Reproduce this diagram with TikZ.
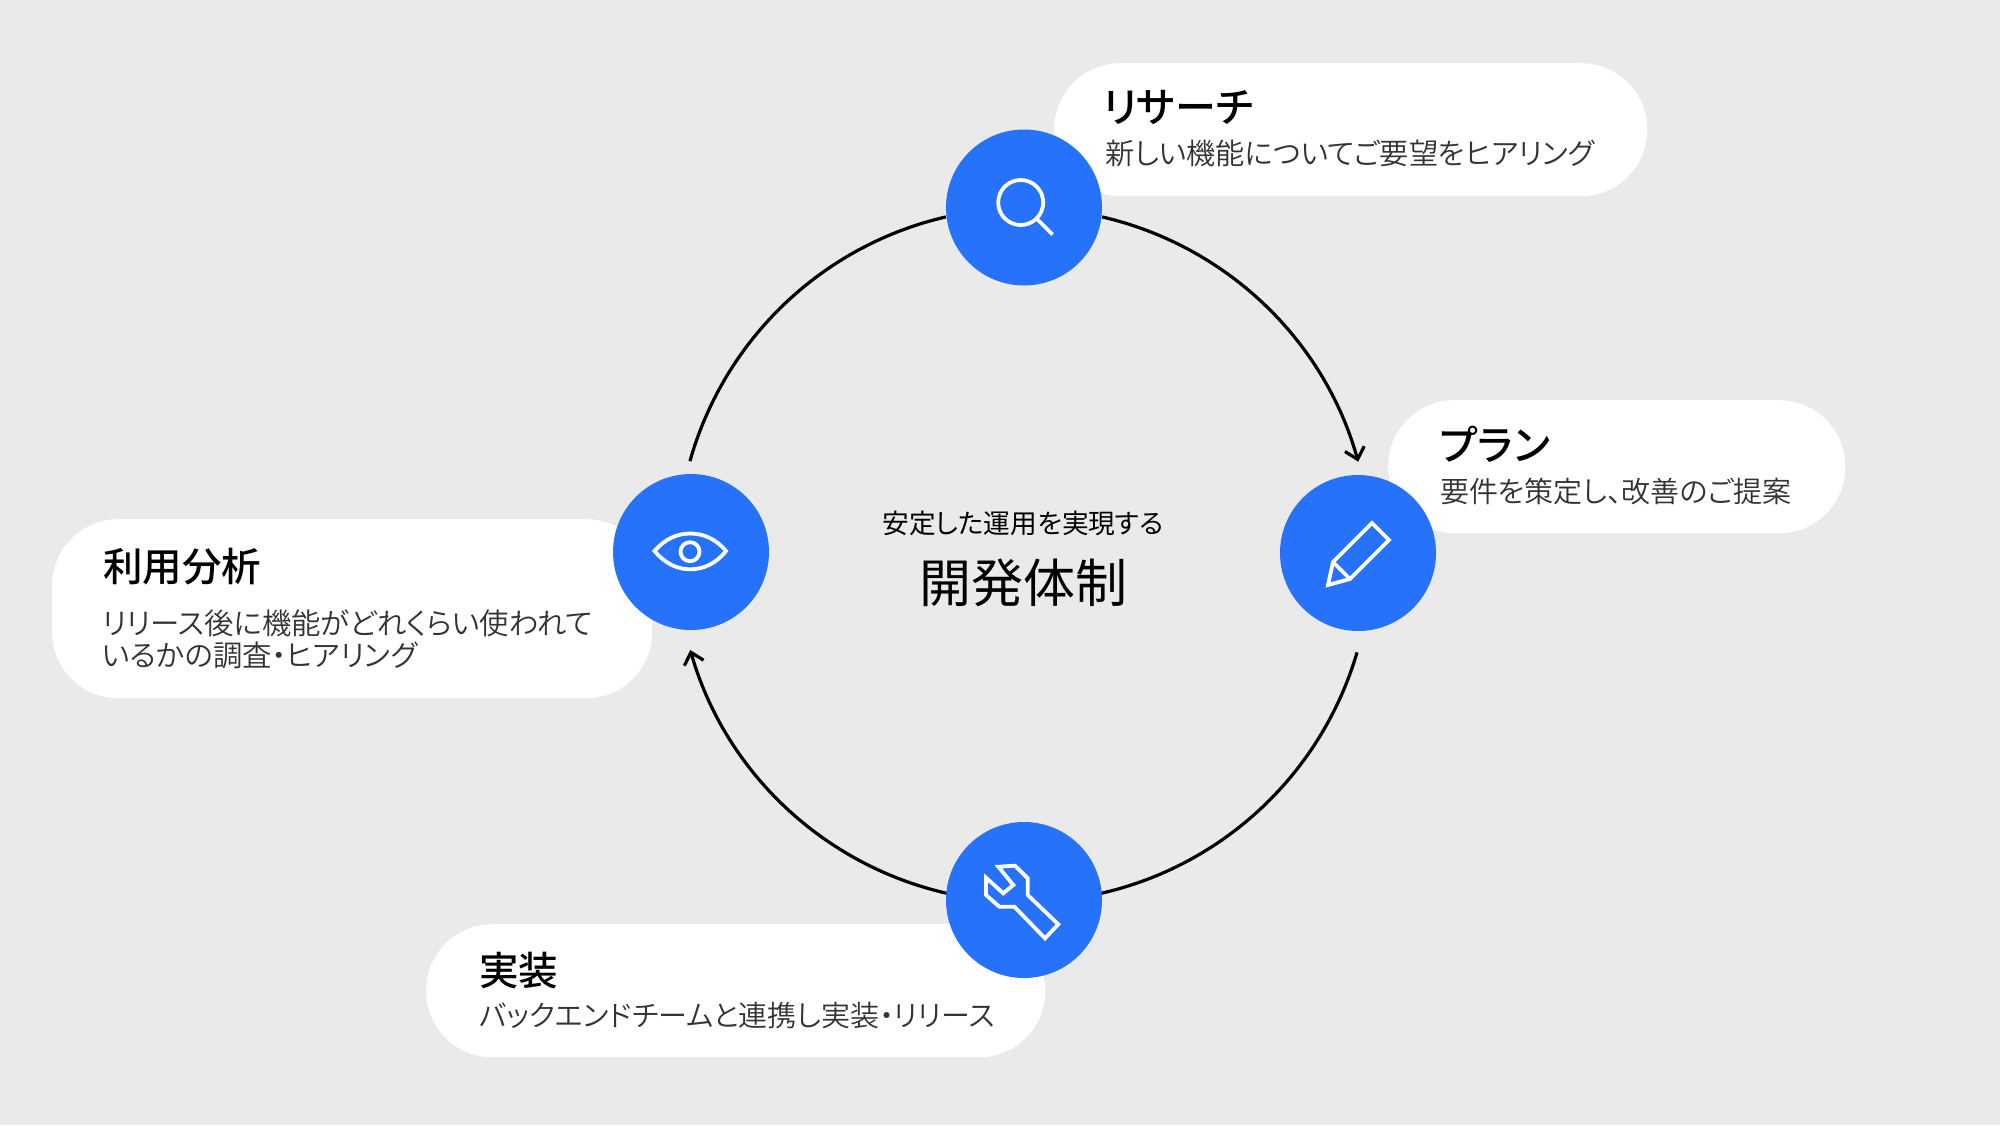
\documentclass[tikz,border=0pt]{standalone}
\usepackage{fontspec}
\setmainfont[RawFeature=+palt]{Noto Sans CJK JP}
\newfontfamily\ttlfont[RawFeature=+palt]{Noto Sans CJK JP Medium}
\newfontfamily\subfont[RawFeature=+palt]{Noto Sans CJK JP DemiLight}
\usetikzlibrary{arrows.meta,calc}
\definecolor{bgc}{HTML}{EAEAEA}
\definecolor{bluec}{HTML}{2672FA}
\definecolor{subc}{HTML}{333333}
\tikzset{
  x=1pt,y=-1pt,
  pill/.style={fill=white,rounded corners=66pt,inner sep=0pt,anchor=north west,minimum height=133pt},
  disc/.style={circle,fill=bluec,minimum size=156pt,inner sep=0pt},
  ttl/.style={anchor=base west,inner sep=0pt,font=\fontsize{40}{40}\selectfont\ttlfont,text=black},
  ttlk/.style={ttl,font=\fontsize{41}{41}\selectfont\ttlfont},
  sub/.style={anchor=base west,inner sep=0pt,font=\fontsize{29}{32}\selectfont\subfont,text=subc,align=left},
  ring/.style={line width=3.2pt,draw=black},
  ringarrow/.style={ring,-{Straight Barb[length=11pt,width=20pt,line width=3.2pt]}},
  icon/.style={draw=white,line width=3.8pt,line join=miter}
}
\begin{document}
\begin{tikzpicture}
\useasboundingbox[fill=bgc] (0,0) rectangle (2000,1125);
% pills
\node[pill,minimum width=593pt] (p1) at (1054,63) {};
\node[pill,minimum width=457pt] (p2) at (1388,400) {};
\node[pill,minimum width=619pt] (p3) at (426,924) {};
\node[pill,minimum width=600pt,minimum height=179pt] (p4) at (52,519) {};
% ring
\coordinate (rc) at (1024,555);
\coordinate (s1) at ($(rc)+(77:347pt)$);
\coordinate (s2) at ($(rc)+(-16.3:347pt)$);
\coordinate (s3) at ($(rc)+(-102.8:347pt)$);
\coordinate (s4) at ($(rc)+(164.3:347pt)$);
\draw[ringarrow] (s1) arc[start angle=77,end angle=15.6,radius=347pt];
\draw[ring] (s2) arc[start angle=-16.3,end angle=-77.2,radius=347pt];
\draw[ringarrow] (s3) arc[start angle=-102.8,end angle=-164.1,radius=347pt];
\draw[ring] (s4) arc[start angle=164.3,end angle=103,radius=347pt];
% discs
\node[disc] (d1) at (1024,207.5) {};
\node[disc] (d2) at (1358,553) {};
\node[disc] (d3) at (1024,900) {};
\node[disc] (d4) at (691,552) {};
% icons
\draw[icon] (1020.7,202.5) circle[radius=22.5pt];
\draw[icon] (1037,219) -- (1052.5,234.5);
\draw[icon] (1333,562) -- (1372,523) -- (1389,540) -- (1350,579) -- (1328,585) -- cycle (1333,562) -- (1350,579);
\draw[icon] (998.3,866.7) -- (1015,865.7) -- (1027.7,878.3) -- (1027.7,895) -- (1058.3,924.3) -- (1045,938.3) -- (1014.3,906.7) -- (999.3,906.7) -- (986,895) -- (986,877.7) -- (1003.3,893.3) -- (1013.3,885) -- cycle;
\draw[icon] (654.5,551) .. controls (665,539) and (677,533.5) .. (690.3,533.5) .. controls (703.5,533.5) and (716,539) .. (726,551) .. controls (716,563.5) and (703.5,569.3) .. (690.3,569.3) .. controls (677,569.3) and (665,563.5) .. (654.5,551) -- cycle;
\draw[icon] (690,551.7) circle[radius=9.5pt];
% texts
\node[ttlk] (t1) at (1103,122) {リサーチ};
\node[sub,font=\fontsize{29.2}{32}\selectfont\subfont] (u1) at (1105,164) {新しい機能についてご要望をヒアリング};
\node[ttlk] (t2) at (1440,460) {プラン};
\node[sub] (u2) at (1440,502) {要件を策定し、改善のご提案};
\node[ttl,font=\fontsize{39.5}{40}\selectfont\ttlfont] (t3) at (479,985) {実装};
\node[sub] (u3) at (479,1026) {バックエンドチームと連携し実装・リリース};
\node[ttl,font=\fontsize{39.5}{40}\selectfont\ttlfont] (t4) at (103,581) {利用分析};
\node[sub,anchor=north west,font=\fontsize{29.4}{32}\selectfont\subfont] (u4) at (102,610) {リリース後に機能がどれくらい使われて\\いるかの調査・ヒアリング};
\node[inner sep=0pt,font=\fontsize{26.7}{27}\selectfont] (c1) at (1023,523) {安定した運用を実現する};
\node[inner sep=0pt,font=\fontsize{52}{52}\selectfont] (c2) at (1023,583) {開発体制};
\end{tikzpicture}
\end{document}
